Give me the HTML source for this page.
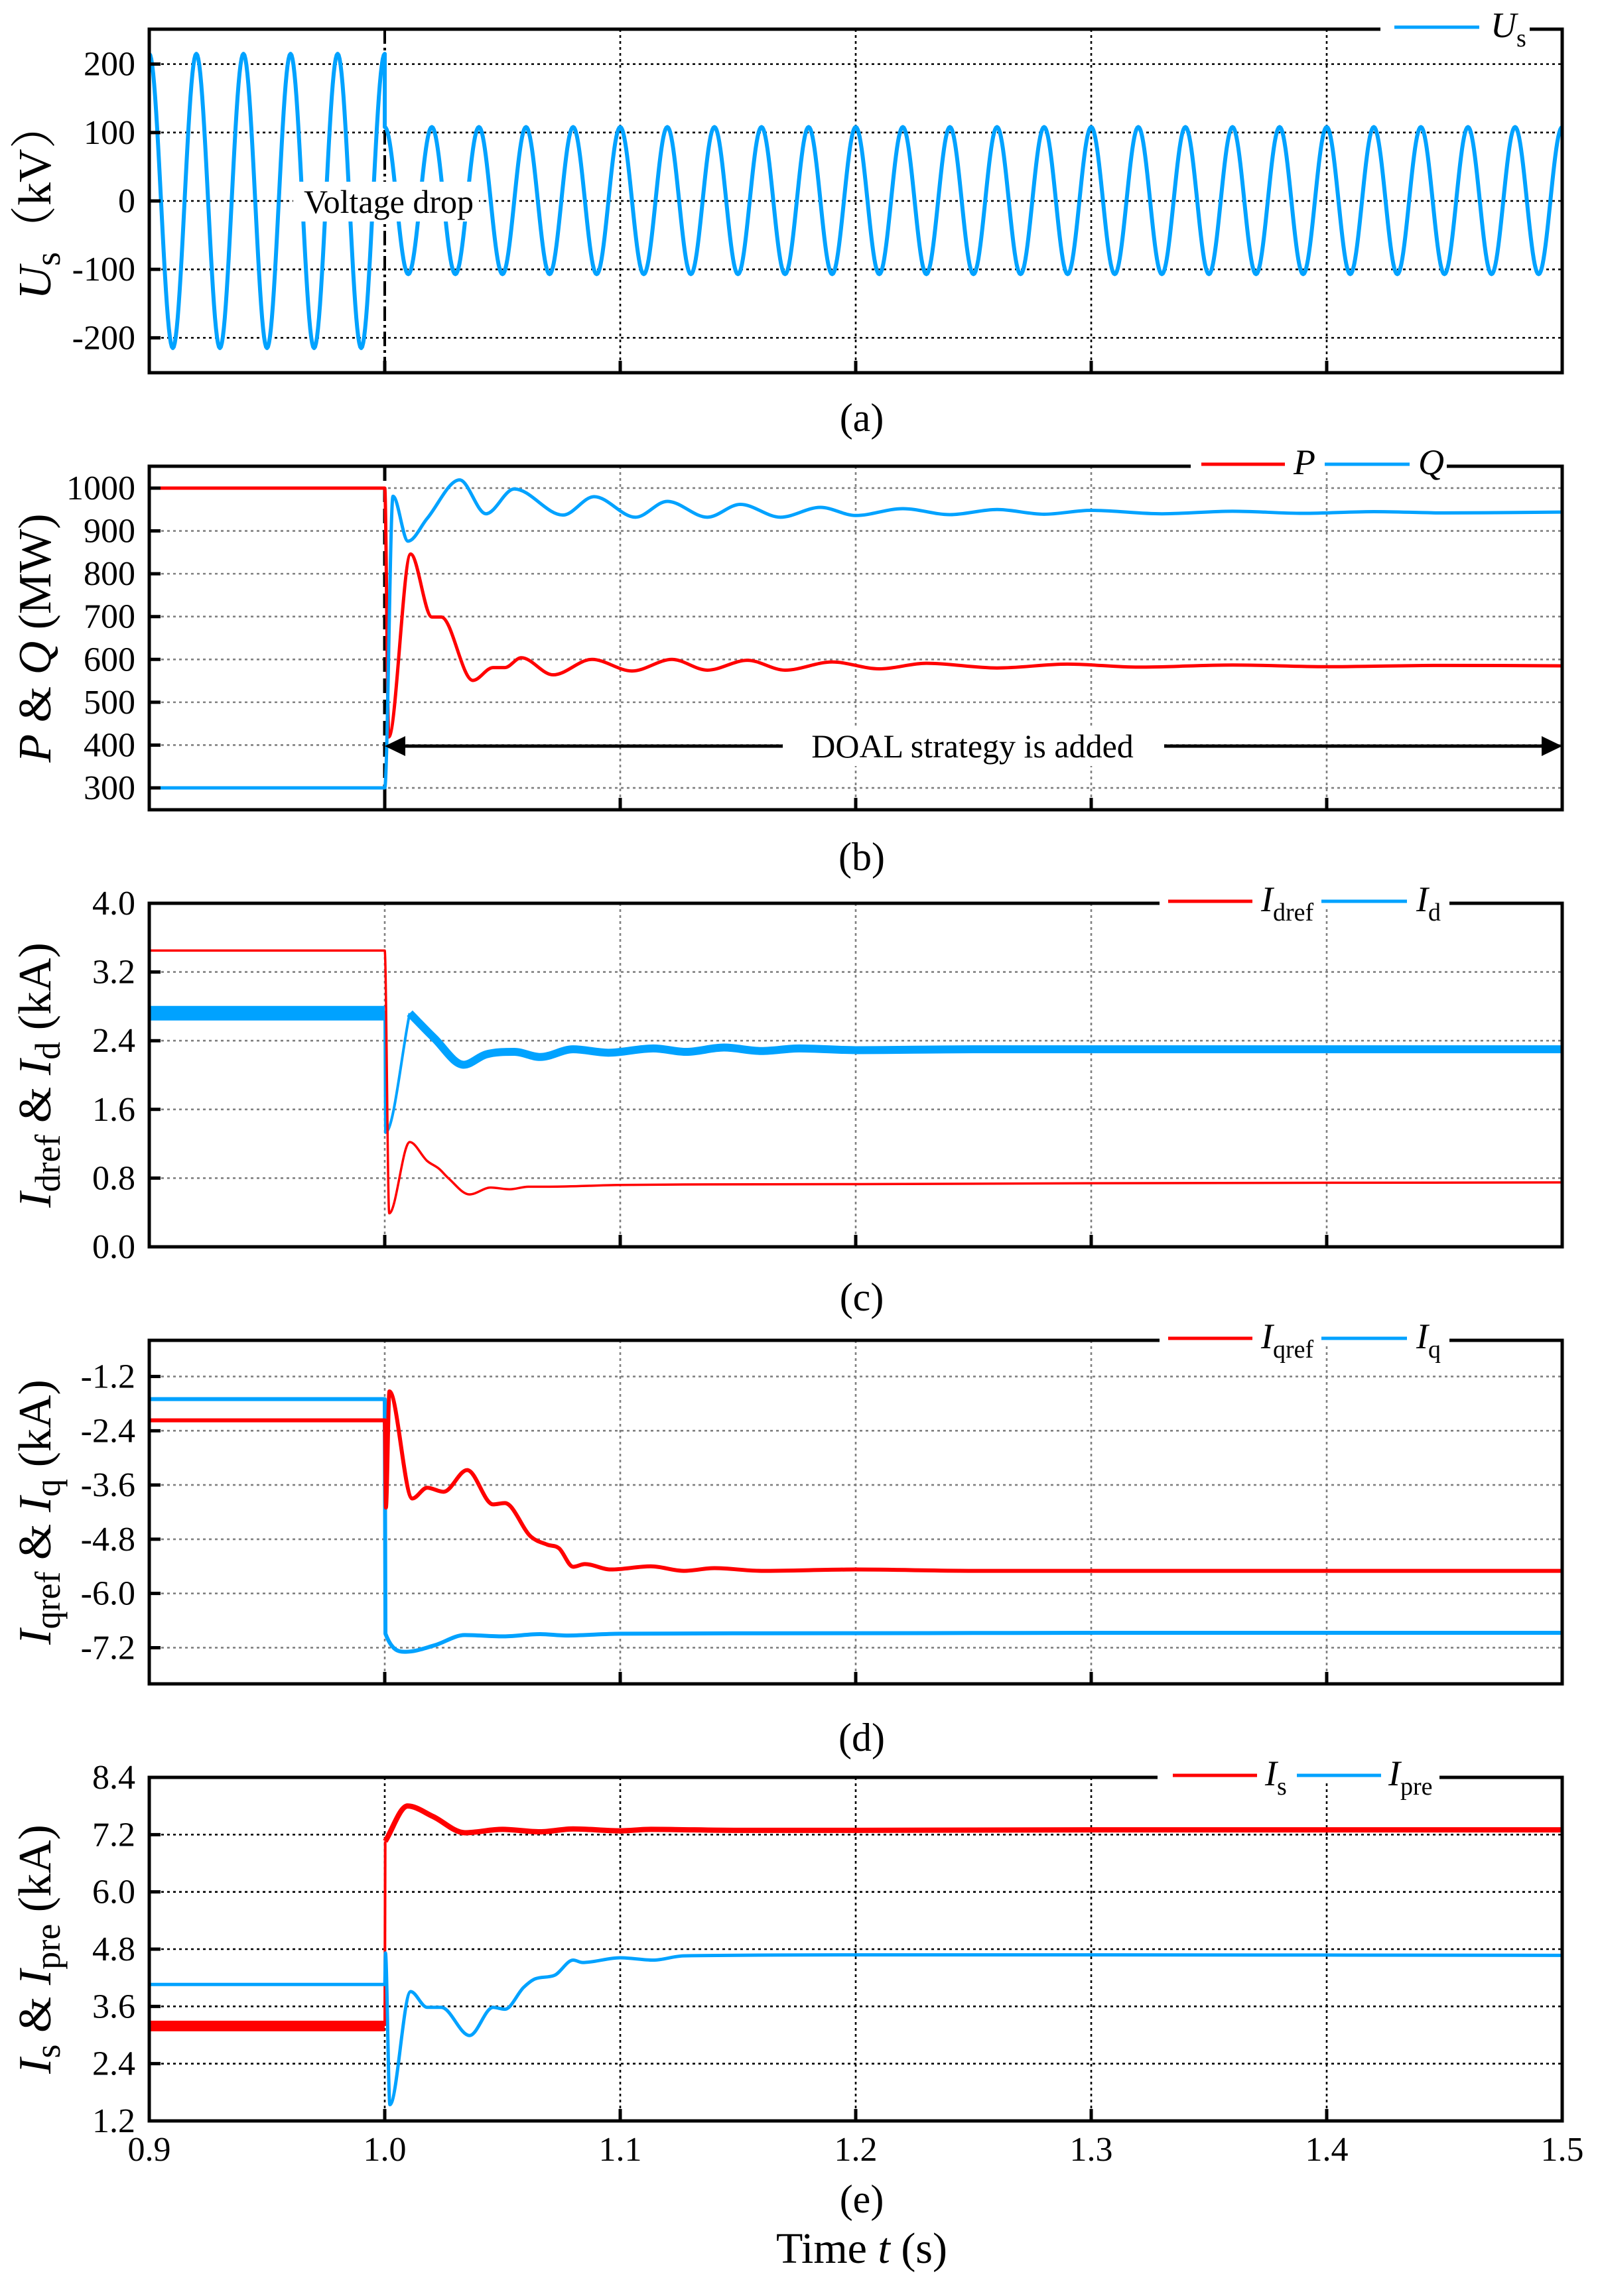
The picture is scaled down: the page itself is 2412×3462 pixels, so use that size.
<!DOCTYPE html>
<html><head><meta charset="utf-8"><title>DOAL strategy waveforms</title>
<style>
html,body{margin:0;padding:0;background:#fff;}
svg{display:block;font-family:"Liberation Serif","Noto Serif CJK SC",serif;}
</style></head>
<body>
<svg id="fig" xmlns="http://www.w3.org/2000/svg" width="2412" height="3462" viewBox="0 0 2412 3462">
<rect x="0" y="0" width="2412" height="3462" fill="#fff"/>
</svg>
<script>
// ---------- data ----------
const xTicks = [0.9, 1.0, 1.1, 1.2, 1.3, 1.4, 1.5];
const xTickLabels = ["0.9", "1.0", "1.1", "1.2", "1.3", "1.4", "1.5"];

// (a) Us: successive half-cycle extrema (kV), one every 0.01 s
const usPreExt = [215,-215,215,-215,215,-215,215,-215,215,-215,215];
const usPostExt = [108,-107,108,-107,108,-107,108,-107,108,-107,108,-107,108,-107,108,-107,108,-107,108,-107,108,-107,108,-107,108,-107,108,-107,108,-107,108,-107,108,-107,108,-107,108,-107,108,-107,108,-107,108,-107,108,-107,108,-107,108,-107,108];
const aTicks = [-200, -100, 0, 100, 200];

// (b) P and Q (MW)
const pT = [0.9,1.0,1.0017,1.011,1.02,1.024,1.0374,1.046,1.051,1.058,1.0715,1.088,1.105,1.122,1.137,1.154,1.17,1.19,1.21,1.23,1.26,1.29,1.32,1.36,1.4,1.45,1.5];
const pV = [1000,1000,419,846,699,699,551,581,581,604,564,600,573,600,575,598,575,594,578,591,580,589,582,587,583,586,585];
const qT = [0.9,1.0,1.0035,1.0099,1.018,1.0318,1.043,1.055,1.0757,1.0889,1.1065,1.12,1.137,1.151,1.168,1.185,1.2,1.22,1.24,1.26,1.28,1.3,1.33,1.36,1.39,1.42,1.45,1.5];
const qV = [300,300,981,876,929,1019,940,998,937,980,932,969,932,962,932,955,936,952,938,950,939,948,940,946,941,945,942,944];
const bTicks = [300,400,500,600,700,800,900,1000];

// (c) Idref and Id (kA)
const idrefT = [0.9,1.0,1.0019,1.0106,1.018,1.023,1.027,1.036,1.045,1.053,1.061,1.07,1.1,1.2,1.3,1.5];
const idrefV = [3.45,3.45,0.39,1.22,1.0,0.91,0.8,0.61,0.69,0.67,0.7,0.7,0.72,0.73,0.74,0.75];
const idT = [0.9,1.0,1.0003,1.0106,1.021,1.0335,1.043,1.055,1.066,1.08,1.095,1.114,1.128,1.144,1.16,1.176,1.2,1.25,1.3,1.4,1.5];
const idV = [2.72,2.72,1.33,2.72,2.43,2.12,2.24,2.27,2.21,2.30,2.26,2.31,2.27,2.32,2.28,2.31,2.29,2.30,2.30,2.30,2.30];
const cTicks = [0.0,0.8,1.6,2.4,3.2,4.0];

// (d) Iqref and Iq (kA)
const iqrefT = [0.9,1.0,1.0005,1.002,1.0117,1.018,1.025,1.035,1.046,1.051,1.062,1.069,1.074,1.08,1.085,1.096,1.113,1.127,1.14,1.16,1.2,1.25,1.3,1.4,1.5];
const iqrefV = [-2.17,-2.17,-4.1,-1.53,-3.9,-3.66,-3.75,-3.27,-4.03,-4.0,-4.74,-4.92,-5.0,-5.41,-5.35,-5.47,-5.4,-5.5,-5.44,-5.5,-5.47,-5.5,-5.5,-5.5,-5.5];
const iqT = [0.9,1.0,1.0003,1.009,1.021,1.034,1.05,1.066,1.077,1.1,1.2,1.3,1.5];
const iqV = [-1.7,-1.7,-6.89,-7.29,-7.15,-6.92,-6.95,-6.9,-6.93,-6.89,-6.88,-6.87,-6.87];
const dTicks = [-7.2,-6.0,-4.8,-3.6,-2.4,-1.2];

// (e) Is and Ipre (kA)
const isT = [0.9,1.0,1.0002,1.0097,1.0205,1.034,1.05,1.066,1.08,1.1,1.113,1.15,1.2,1.3,1.5];
const isV = [3.19,3.19,7.06,7.8,7.58,7.24,7.31,7.26,7.32,7.28,7.31,7.29,7.29,7.30,7.30];
const ipreT = [0.9,1.0,1.0003,1.0022,1.011,1.018,1.024,1.036,1.046,1.051,1.059,1.064,1.072,1.08,1.084,1.1,1.114,1.127,1.2,1.3,1.5];
const ipreV = [4.06,4.06,4.72,1.54,3.91,3.58,3.58,2.99,3.58,3.54,4.0,4.18,4.25,4.57,4.52,4.62,4.57,4.66,4.68,4.68,4.67];
const eTicks = [1.2,2.4,3.6,4.8,6.0,7.2,8.4];

// ---------- helpers ----------
const NS = "http://www.w3.org/2000/svg";
const svg = document.getElementById("fig");
const BLUE = "#00A2FF", RED = "#FF0000";
const X0 = 225, X1 = 2355, PH = 518;
function xs(t){ return X0 + (t - 0.9) / 0.6 * (X1 - X0); }
function mk(tag, attrs, parent){
  const e = document.createElementNS(NS, tag);
  for (const k in attrs) e.setAttribute(k, attrs[k]);
  (parent || svg).appendChild(e);
  return e;
}
function yScale(top, lo, hi){ return v => top + PH - (v - lo) / (hi - lo) * PH; }
function monoPath(px, py){
  const n = px.length;
  if (n < 2) return "";
  const d = [], m = new Array(n);
  for (let i = 0; i < n - 1; i++){ const dx = px[i+1]-px[i]; d.push(dx === 0 ? 0 : (py[i+1]-py[i]) / dx); }
  m[0] = d[0]; m[n-1] = d[n-2];
  for (let i = 1; i < n - 1; i++){
    if (d[i-1] * d[i] <= 0) m[i] = 0; else m[i] = (d[i-1] + d[i]) / 2;
  }
  for (let i = 0; i < n - 1; i++){
    if (d[i] === 0){ m[i] = 0; m[i+1] = 0; continue; }
    const a = m[i] / d[i], b = m[i+1] / d[i], s = a*a + b*b;
    if (s > 9){ const tt = 3 / Math.sqrt(s); m[i] = tt*a*d[i]; m[i+1] = tt*b*d[i]; }
  }
  let p = "M" + px[0].toFixed(2) + " " + py[0].toFixed(2);
  for (let i = 0; i < n - 1; i++){
    const h = (px[i+1] - px[i]) / 3;
    p += " C" + (px[i]+h).toFixed(2) + " " + (py[i]+m[i]*h).toFixed(2) + " " +
         (px[i+1]-h).toFixed(2) + " " + (py[i+1]-m[i+1]*h).toFixed(2) + " " +
         px[i+1].toFixed(2) + " " + py[i+1].toFixed(2);
  }
  return p;
}
function series(T, V, y, from, to, color, w, name){
  const px = [], py = [];
  for (let i = 0; i < T.length; i++){ if (T[i] >= from - 1e-9 && T[i] <= to + 1e-9){ px.push(xs(T[i])); py.push(y(V[i])); } }
  const p = mk("path", {d: monoPath(px, py), fill: "none", stroke: color, "stroke-width": w, "stroke-linejoin": "round"});
  
  
  return p;
}
function panel(cfg){
  const g = mk("g", {});
  
  
  const top = cfg.top, y = cfg.y, bot = top + PH;
  cfg.ticks.forEach(v => {
    const yy = y(v);
    if (Math.abs(yy - top) > 3 && Math.abs(yy - bot) > 3){
      const l = mk("line", {x1: X0, x2: X1, y1: yy, y2: yy, stroke: cfg.grid, "stroke-width": 2.6, "stroke-dasharray": "4 5"}, g);
      
      
    }
  });
  xTicks.forEach(t => {
    if (t > 0.95 && t < 1.45 && !(cfg.skip1 && Math.abs(t - 1.0) < 1e-6)){
      const l = mk("line", {x1: xs(t), x2: xs(t), y1: top, y2: bot, stroke: cfg.grid, "stroke-width": 2.6, "stroke-dasharray": "4 5"}, g);
      
      
    }
  });
  return g;
}
function frame(cfg, g){
  const top = cfg.top, bot = top + PH, y = cfg.y;
  xTicks.forEach(t => {
    if (t > 0.95 && t < 1.45){
      const l = mk("line", {x1: xs(t), x2: xs(t), y1: bot, y2: bot - 18, stroke: "#000", "stroke-width": 5}, g);
      
      
    }
  });
  cfg.ticks.forEach(v => {
    const l = mk("line", {x1: X0, x2: X0 + 17, y1: y(v), y2: y(v), stroke: "#000", "stroke-width": 5}, g);
    
    
    const tx = mk("text", {x: 204, y: y(v) + 17, "font-size": 52, "text-anchor": "end", fill: "#000"}, g);
    tx.textContent = cfg.fmt(v);
    
    
  });
  const f = mk("rect", {x: X0, y: top, width: X1 - X0, height: PH, fill: "none", stroke: "#000", "stroke-width": 5}, g);
  
  
}
function legend(g, top, gap0, gap1, items){
  const r = mk("rect", {x: gap0, y: top - 8, width: gap1 - gap0, height: 16, fill: "#fff"}, g);
  
  
  items.forEach(it => {
    const l = mk("line", {x1: it.l0, x2: it.l1, y1: top - 3, y2: top - 3, stroke: it.color, "stroke-width": 5}, g);
    
    
    const t = mk("text", {x: it.tx, y: top + 12, "font-size": 54, fill: "#000"}, g);
    
    
    const a = mk("tspan", {"font-style": "italic"}, t); a.textContent = it.main;
    if (it.sub){ const b = mk("tspan", {"font-size": 38, dy: 14}, t); b.textContent = it.sub; }
  });
}
function ytitle(cx, cy, parts, name){
  const t = mk("text", {x: cx, y: cy, "font-size": 70, "text-anchor": "middle", transform: "rotate(-90 " + cx + " " + cy + ")", fill: "#000"});
  
  
  parts.forEach(p => {
    const s = mk("tspan", {}, t);
    if (p.i) s.setAttribute("font-style", "italic");
    if (p.sub){ s.setAttribute("font-size", 54); s.setAttribute("dy", 14); }
    if (p.up) s.setAttribute("dy", -14);
    s.textContent = p.t;
  });
}
function caption(txt, cy, name){
  const t = mk("text", {x: 1299, y: cy + 18, "font-size": 60, "text-anchor": "middle", fill: "#000"});
  t.textContent = txt;
  
  
}
const tops = [44, 703, 1362, 2021, 2680];
const fmt0 = v => String(v), fmt1 = v => v.toFixed(1);

// ---------- panel (a) ----------
const cfgA = {name: "panel-a-us", top: tops[0], y: yScale(tops[0], -251, 251), ticks: aTicks, fmt: fmt0, grid: "#000", skip1: true};
const gA = panel(cfgA);
const dl = mk("line", {x1: xs(1.0), x2: xs(1.0), y1: tops[0], y2: tops[0] + PH, stroke: "#000", "stroke-width": 4, "stroke-dasharray": "22 6 4 6"}, gA);


function extPath(ext, t0){
  let p = "";
  for (let k = 0; k < ext.length - 1; k++){
    for (let s = 0; s <= 24; s++){
      const u = s / 24, t = t0 + (k + u) * 0.01;
      const v = (ext[k] + ext[k+1]) / 2 + (ext[k] - ext[k+1]) / 2 * Math.cos(Math.PI * u);
      p += (p ? " L" : "M") + xs(t).toFixed(2) + " " + cfgA.y(v).toFixed(2);
    }
  }
  return p;
}
const usPath = extPath(usPreExt, 0.9) + " L" + xs(1.0).toFixed(2) + " " + cfgA.y(usPostExt[0]).toFixed(2) + " " + extPath(usPostExt, 1.0).replace(/^M/, "L");
const usLine = mk("path", {d: usPath, fill: "none", stroke: BLUE, "stroke-width": 6, "stroke-linejoin": "round"}, gA);


const vdBox = mk("rect", {x: 442, y: 274, width: 280, height: 60, fill: "#fff"}, gA);


const vd = mk("text", {x: 586, y: 321, "font-size": 50, "text-anchor": "middle"}, gA);
vd.textContent = "Voltage drop";


frame(cfgA, gA);
legend(gA, tops[0], 2081, 2306, [{key: "us", l0: 2102, l1: 2230, tx: 2247, color: BLUE, main: "U", sub: "s"}]);

// ---------- panel (b) ----------
const cfgB = {name: "panel-b-pq", top: tops[1], y: yScale(tops[1], 249, 1051), ticks: bTicks, fmt: fmt0, grid: "#808080", skip1: true};
const gB = panel(cfgB);
const dl2 = mk("line", {x1: xs(1.0), x2: xs(1.0), y1: tops[1], y2: tops[1] + PH, stroke: "#000", "stroke-width": 5, "stroke-dasharray": "22 10"}, gB);


gB.appendChild(series(pT, pV, cfgB.y, 0.9, 1.5, RED, 5, "p-line"));
gB.appendChild(series(qT, qV, cfgB.y, 0.9, 1.5, BLUE, 5, "q-line"));
const ay = 1125;
const arr = mk("line", {x1: xs(1.0) + 25, x2: X1 - 25, y1: ay, y2: ay, stroke: "#000", "stroke-width": 5}, gB);


const ah1 = mk("polygon", {points: (xs(1.0)) + "," + ay + " " + (xs(1.0) + 31) + "," + (ay - 15) + " " + (xs(1.0) + 31) + "," + (ay + 15)}, gB);


const ah2 = mk("polygon", {points: X1 + "," + ay + " " + (X1 - 31) + "," + (ay - 15) + " " + (X1 - 31) + "," + (ay + 15)}, gB);


const dbox = mk("rect", {x: 1180, y: 1095, width: 575, height: 60, fill: "#fff"}, gB);


const dt = mk("text", {x: 1466, y: 1142, "font-size": 50, "text-anchor": "middle"}, gB);
dt.textContent = "DOAL strategy is added";


frame(cfgB, gB);
legend(gB, tops[1], 1795, 2181, [
  {key: "p", l0: 1811, l1: 1937, tx: 1950, color: RED, main: "P"},
  {key: "q", l0: 1997, l1: 2125, tx: 2138, color: BLUE, main: "Q"}]);

// ---------- panel (c) ----------
const cfgC = {name: "panel-c-id", top: tops[2], y: yScale(tops[2], 0, 4.0), ticks: cTicks, fmt: fmt1, grid: "#808080"};
const gC = panel(cfgC);
gC.appendChild(series(idT, idV, cfgC.y, 0.9, 1.0, BLUE, 22, "id-line-pre"));
gC.appendChild(series(idT, idV, cfgC.y, 1.0, 1.0106, BLUE, 4, "id-line-step"));
gC.appendChild(series(idT, idV, cfgC.y, 1.0106, 1.5, BLUE, 12, "id-line"));
gC.appendChild(series(idrefT, idrefV, cfgC.y, 0.9, 1.5, RED, 3.5, "idref-line"));
frame(cfgC, gC);
legend(gC, tops[2], 1748, 2185, [
  {key: "idref", l0: 1761, l1: 1888, tx: 1901, color: RED, main: "I", sub: "dref"},
  {key: "id", l0: 1992, l1: 2121, tx: 2135, color: BLUE, main: "I", sub: "d"}]);

// ---------- panel (d) ----------
const cfgD = {name: "panel-d-iq", top: tops[3], y: yScale(tops[3], -8.0, -0.4), ticks: dTicks, fmt: fmt1, grid: "#808080"};
const gD = panel(cfgD);
gD.appendChild(series(iqT, iqV, cfgD.y, 0.9, 1.5, BLUE, 6, "iq-line"));
gD.appendChild(series(iqrefT, iqrefV, cfgD.y, 0.9, 1.5, RED, 6, "iqref-line"));
frame(cfgD, gD);
legend(gD, tops[3], 1748, 2185, [
  {key: "iqref", l0: 1761, l1: 1888, tx: 1901, color: RED, main: "I", sub: "qref"},
  {key: "iq", l0: 1992, l1: 2121, tx: 2135, color: BLUE, main: "I", sub: "q"}]);

// ---------- panel (e) ----------
const cfgE = {name: "panel-e-is", top: tops[4], y: yScale(tops[4], 1.2, 8.4), ticks: eTicks, fmt: fmt1, grid: "#000"};
const gE = panel(cfgE);
gE.appendChild(series(isT, isV, cfgE.y, 0.9, 1.0, RED, 16, "is-line-pre"));
gE.appendChild(series(isT, isV, cfgE.y, 1.0, 1.0002, RED, 4, "is-line-step"));
gE.appendChild(series(isT, isV, cfgE.y, 1.0002, 1.5, RED, 8, "is-line"));
gE.appendChild(series(ipreT, ipreV, cfgE.y, 0.9, 1.5, BLUE, 5, "ipre-line"));
frame(cfgE, gE);
legend(gE, tops[4], 1745, 2170, [
  {key: "is", l0: 1768, l1: 1895, tx: 1907, color: RED, main: "I", sub: "s"},
  {key: "ipre", l0: 1955, l1: 2082, tx: 2093, color: BLUE, main: "I", sub: "pre"}]);
xTicks.forEach((t, i) => {
  const tx = mk("text", {x: xs(t), y: 3258, "font-size": 52, "text-anchor": "middle"});
  tx.textContent = xTickLabels[i];
  
  
});

// ---------- titles & captions ----------
ytitle(76, tops[0] + 259, [{t: "U", i: 1}, {t: "s", sub: 1}, {t: "（kV）", up: 1}], "y-axis-title-a");
ytitle(76, tops[1] + 259, [{t: "P", i: 1}, {t: " & "}, {t: "Q", i: 1}, {t: " (MW)"}], "y-axis-title-b");
ytitle(76, tops[2] + 259, [{t: "I", i: 1}, {t: "dref", sub: 1}, {t: " & ", up: 1}, {t: "I", i: 1}, {t: "d", sub: 1}, {t: " (kA)", up: 1}], "y-axis-title-c");
ytitle(76, tops[3] + 259, [{t: "I", i: 1}, {t: "qref", sub: 1}, {t: " & ", up: 1}, {t: "I", i: 1}, {t: "q", sub: 1}, {t: " (kA)", up: 1}], "y-axis-title-d");
ytitle(76, tops[4] + 259, [{t: "I", i: 1}, {t: "s", sub: 1}, {t: " & ", up: 1}, {t: "I", i: 1}, {t: "pre", sub: 1}, {t: " (kA)", up: 1}], "y-axis-title-e");
caption("(a)", 632, "caption-a");
caption("(b)", 1294, "caption-b");
caption("(c)", 1958, "caption-c");
caption("(d)", 2622, "caption-d");
caption("(e)", 3318, "caption-e");
const xt = mk("text", {x: 1299, y: 3412, "font-size": 66, "text-anchor": "middle"});


const x1s = mk("tspan", {}, xt); x1s.textContent = "Time ";
const x2s = mk("tspan", {"font-style": "italic"}, xt); x2s.textContent = "t";
const x3s = mk("tspan", {}, xt); x3s.textContent = " (s)";
</script>
</body></html>
